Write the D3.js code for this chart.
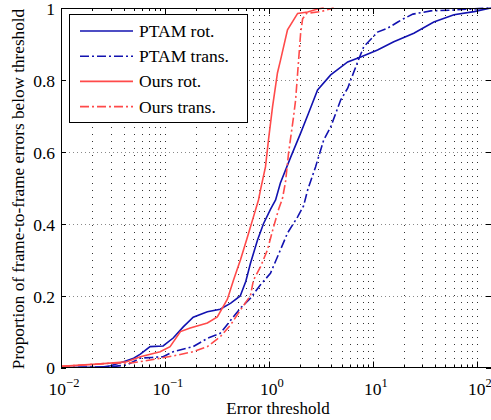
<!DOCTYPE html>
<html>
<head>
<meta charset="utf-8">
<script src="https://cdn.jsdelivr.net/npm/d3@7"></script>
<style>
	body{margin:0;background:#fff;}
	svg{display:block;}
	svg text{font-family:'Liberation Serif','Tinos','Times New Roman','Nimbus Roman','DejaVu Serif',serif;}
</style>
</head>
<body>
<svg id="chart" width="491" height="420"></svg>
<script>
// [error threshold, proportion below threshold]
const ptamRot = [[0.01,0],[0.025,0.001],[0.03,0.005],[0.04,0.016],[0.05,0.026],[0.058,0.037],[0.072,0.058],[0.096,0.06],[0.12,0.082],[0.15,0.113],[0.187,0.14],[0.256,0.155],[0.34,0.162],[0.43,0.179],[0.53,0.199],[0.6,0.24],[0.665,0.29],[0.776,0.354],[0.887,0.4],[1.035,0.44],[1.16,0.466],[1.29,0.513],[1.61,0.583],[2.02,0.652],[2.41,0.708],[2.94,0.772],[3.93,0.814],[5.73,0.85],[7.64,0.864],[11.1,0.883],[15.9,0.906],[24.8,0.93],[38.6,0.961],[60.3,0.981],[94,0.99],[137,1]];
const ptamTrans = [[0.01,0],[0.03,0.002],[0.043,0.007],[0.058,0.026],[0.075,0.028],[0.096,0.03],[0.12,0.044],[0.187,0.058],[0.256,0.081],[0.34,0.095],[0.456,0.141],[0.532,0.165],[0.665,0.193],[0.83,0.23],[1.035,0.262],[1.29,0.327],[1.51,0.374],[1.89,0.419],[2.16,0.45],[2.36,0.494],[2.81,0.558],[3.37,0.633],[3.93,0.669],[4.9,0.744],[5.73,0.777],[7.14,0.85],[8.17,0.892],[10,0.919],[11.1,0.933],[13.9,0.944],[17.4,0.961],[19.4,0.969],[24.3,0.983],[27.7,0.986],[36.1,0.992],[56.4,0.994],[87.9,0.997],[137,1]];
const oursRot = [[0.01,0.003],[0.024,0.01],[0.043,0.016],[0.058,0.03],[0.09,0.044],[0.112,0.058],[0.141,0.1],[0.175,0.11],[0.256,0.124],[0.319,0.141],[0.399,0.19],[0.456,0.243],[0.532,0.299],[0.622,0.363],[0.71,0.419],[0.794,0.466],[0.83,0.494],[0.927,0.558],[0.991,0.633],[1.084,0.725],[1.21,0.82],[1.294,0.855],[1.51,0.939],[1.73,0.967],[1.89,0.985],[2.36,0.989],[2.94,0.997],[3.37,1]];
const oursTrans = [[0.01,0.003],[0.0163,0.007],[0.03,0.012],[0.049,0.013],[0.072,0.021],[0.12,0.032],[0.187,0.044],[0.256,0.058],[0.341,0.086],[0.427,0.118],[0.532,0.16],[0.665,0.2],[0.71,0.243],[0.83,0.28],[0.968,0.327],[1.107,0.39],[1.24,0.44],[1.35,0.47],[1.445,0.516],[1.545,0.596],[1.726,0.697],[1.807,0.744],[1.89,0.819],[2.02,0.93],[2.11,0.97],[2.3,0.985],[3.15,0.99],[4.2,1]];

const seriesNames = ['PTAM rot.','PTAM trans.','Ours rot.','Ours trans.'];
const yTicks = [0,0.2,0.4,0.6,0.8,1];
const yTickLabels = ['0','0.2','0.4','0.6','0.8','1'];
const xMajorTicks = [0.01,0.1,1,10,100];
const xTickExponents = ['-2','-1','0','1','2'];
const xDomain = [0.01,137];

const blue = '#1212b0';
const red = '#ff4a4a';
const dashDot = '9,3,2,3';
const series = [
	{name:seriesNames[0],data:ptamRot,color:blue,dash:null},
	{name:seriesNames[1],data:ptamTrans,color:blue,dash:dashDot},
	{name:seriesNames[2],data:oursRot,color:red,dash:null},
	{name:seriesNames[3],data:oursTrans,color:red,dash:dashDot}
];

const plotLeft = 61, plotRight = 491, plotTop = 8, plotBottom = 367.5;
const svg = d3.select('#chart');

const x = d3.scaleLog().domain(xDomain).range([plotLeft,plotRight]);
const y = d3.scaleLinear().domain([0,1]).range([plotBottom,plotTop]);

svg.append('defs').append('clipPath').attr('id','plotClip')
	.append('rect').attr('x',plotLeft).attr('y',plotTop-2).attr('width',plotRight-plotLeft).attr('height',plotBottom-plotTop+2);

// grid
const allXTicks = x.ticks().filter(t=>t>xDomain[0] && t<xDomain[1]);
svg.append('g').classed('xgrid',true)
	.selectAll('line')
	.data(allXTicks)
	.join('line')
		.attr('x1',d=>Math.round(x(d))+0.5)
		.attr('x2',d=>Math.round(x(d))+0.5)
		.attr('y1',plotTop)
		.attr('y2',plotBottom)
		.attr('stroke','#333')
		.attr('stroke-width',1)
		.attr('stroke-dasharray','1,6');
svg.append('g').classed('ygrid',true)
	.selectAll('line')
	.data(yTicks.filter(t=>t>0 && t<1))
	.join('line')
		.attr('x1',plotLeft)
		.attr('x2',plotRight)
		.attr('y1',d=>Math.round(y(d))+0.5)
		.attr('y2',d=>Math.round(y(d))+0.5)
		.attr('stroke','#8a8a8a')
		.attr('stroke-width',1)
		.attr('stroke-dasharray','1,3');

// curves
const line = d3.line()
	.x(d=>x(d[0]))
	.y(d=>y(d[1]));
svg.append('g').attr('clip-path','url(#plotClip)')
	.selectAll('path')
	.data(series)
	.join('path')
		.attr('d',d=>line(d.data))
		.attr('fill','none')
		.attr('stroke',d=>d.color)
		.attr('stroke-width',1.6)
		.attr('stroke-dasharray',d=>d.dash);

// axes box + ticks (matlab style, ticks inside)
const axes = svg.append('g').classed('axes',true);
axes.append('rect')
	.attr('x',plotLeft+0.5).attr('y',plotTop+0.5)
	.attr('width',plotRight-plotLeft).attr('height',plotBottom-plotTop-0.5)
	.attr('fill','none').attr('stroke','#000').attr('stroke-width',1);
const xTickAll = x.ticks().filter(t=>t>=xDomain[0] && t<=xDomain[1]);
const isMajor = t=>Math.abs(Math.log10(t)-Math.round(Math.log10(t)))<1e-9;
axes.selectAll('line.xtick')
	.data(xTickAll)
	.join('line')
		.classed('xtick',true)
		.attr('x1',d=>Math.round(x(d))+0.5)
		.attr('x2',d=>Math.round(x(d))+0.5)
		.attr('y1',plotBottom)
		.attr('y2',d=>plotBottom-(isMajor(d)?6:3))
		.attr('stroke','#000');
axes.selectAll('line.xtickTop')
	.data(xTickAll)
	.join('line')
		.classed('xtickTop',true)
		.attr('x1',d=>Math.round(x(d))+0.5)
		.attr('x2',d=>Math.round(x(d))+0.5)
		.attr('y1',plotTop)
		.attr('y2',d=>plotTop+(isMajor(d)?6:3))
		.attr('stroke','#000');
axes.selectAll('line.ytick')
	.data(yTicks)
	.join('line')
		.classed('ytick',true)
		.attr('x1',plotLeft)
		.attr('x2',plotLeft+5)
		.attr('y1',d=>Math.round(y(d))+0.5)
		.attr('y2',d=>Math.round(y(d))+0.5)
		.attr('stroke','#000');
axes.selectAll('line.ytickR')
	.data(yTicks)
	.join('line')
		.classed('ytickR',true)
		.attr('x1',plotRight-5)
		.attr('x2',plotRight)
		.attr('y1',d=>Math.round(y(d))+0.5)
		.attr('y2',d=>Math.round(y(d))+0.5)
		.attr('stroke','#000');

// tick labels
svg.append('g')
	.selectAll('text')
	.data(yTicks)
	.join('text')
		.attr('x',plotLeft-6)
		.attr('y',d=>y(d)+1)
		.attr('dy','0.34em')
		.attr('text-anchor','end')
		.attr('font-size',17.5)
		.text((d,i)=>yTickLabels[i]);
const xl = svg.append('g')
	.selectAll('text')
	.data(xMajorTicks)
	.join('text')
		.attr('x',d=>x(d)+3)
		.attr('y',395)
		.attr('text-anchor','middle')
		.attr('font-size',17.5);
xl.append('tspan').text('10');
xl.append('tspan')
	.attr('dy',-8)
	.attr('font-size',12.5)
	.text((d,i)=>xTickExponents[i].replace('-','\u2212'));

// axis titles
svg.append('text')
	.attr('x',278)
	.attr('y',414)
	.attr('text-anchor','middle')
	.attr('font-size',17)
	.text('Error threshold');
svg.append('text')
	.attr('transform','translate(24,189) rotate(-90)')
	.attr('text-anchor','middle')
	.attr('font-size',17.2)
	.text('Proportion of frame-to-frame errors below threshold');

// legend
const legend = svg.append('g').classed('legend',true);
legend.append('rect')
	.attr('x',69.5).attr('y',14.5)
	.attr('width',178).attr('height',108)
	.attr('fill','#fff').attr('stroke','#000');
const entries = legend.selectAll('g.entry')
	.data(series)
	.join('g')
		.classed('entry',true)
		.attr('transform',(d,i)=>'translate(0,'+(31+i*25.2)+')');
entries.append('line')
	.attr('x1',80).attr('x2',133)
	.attr('y1',0).attr('y2',0)
	.attr('stroke',d=>d.color)
	.attr('stroke-width',1.6)
	.attr('stroke-dasharray',d=>d.dash);
entries.append('text')
	.attr('x',139)
	.attr('y',6)
	.attr('font-size',17.5)
	.text(d=>d.name);
</script>
</body>
</html>
